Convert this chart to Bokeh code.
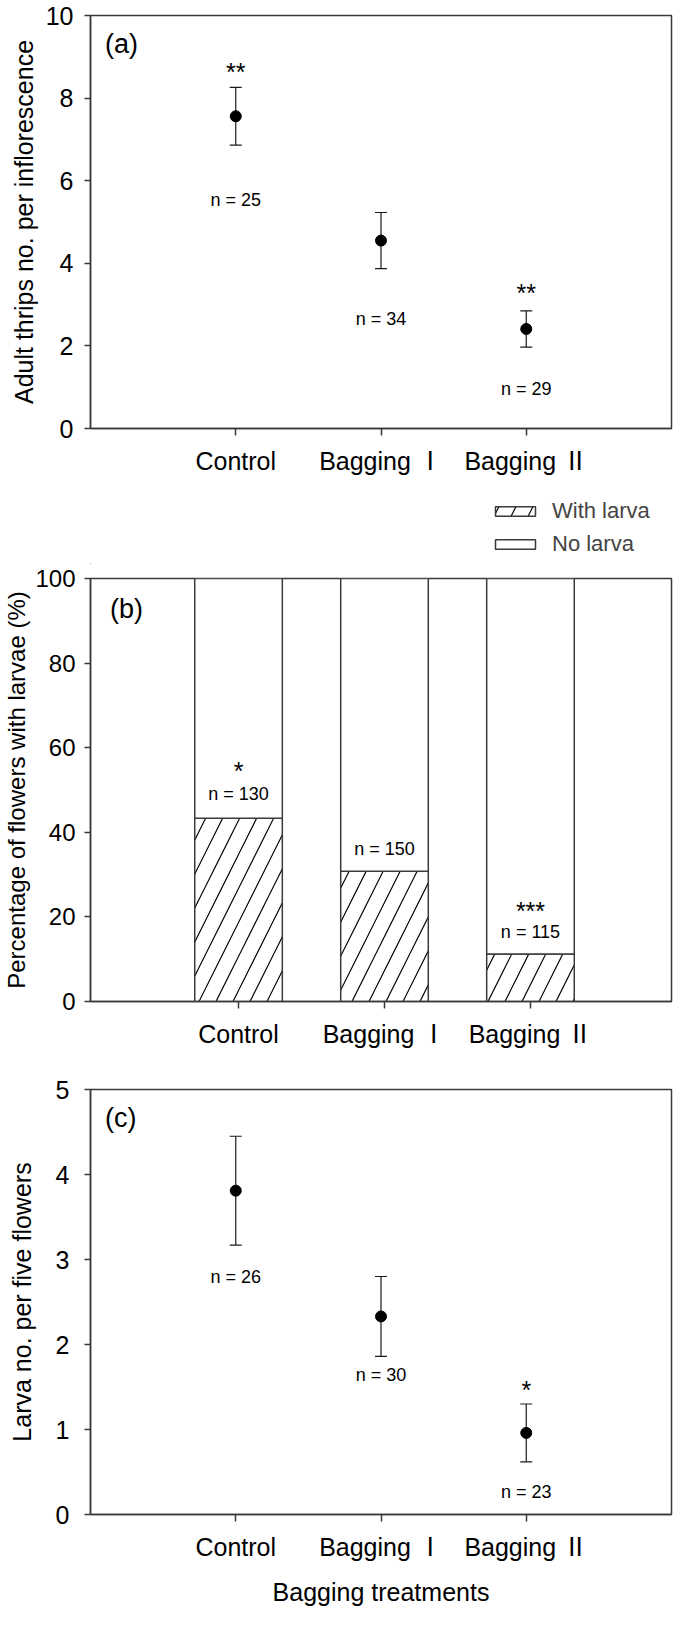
from bokeh.plotting import figure
from bokeh.models import (Range1d, FixedTicker, Whisker, TeeHead, ColumnDataSource,
                          Legend, LegendItem)
from bokeh.layouts import column
from bokeh.embed import file_html
from bokeh.resources import INLINE
from bokeh.core.properties import value

# ---------------- data ----------------
categories = ["Control", "Bagging Ⅰ", "Bagging Ⅱ"]

# (a) adult thrips per inflorescence
adult_mean = [7.56, 4.55, 2.41]
adult_se = [0.70, 0.68, 0.44]
adult_n = [25, 34, 29]
adult_sig = ["**", "", "**"]
adult_yticks = [0, 2, 4, 6, 8, 10]

# (b) percentage of flowers with larvae
with_larva_pct = [43.3, 30.8, 11.2]
flowers_n = [130, 150, 115]
flowers_sig = ["*", "", "***"]
pct_yticks = [0, 20, 40, 60, 80, 100]
legend_labels = ["With larva", "No larva"]

# (c) larva number per five flowers
larva_mean = [3.81, 2.33, 0.96]
larva_se = [0.64, 0.47, 0.34]
larva_n = [26, 30, 23]
larva_sig = ["", "", "*"]
larva_yticks = [0, 1, 2, 3, 4, 5]

# annotation anchor heights (data units)
adult_n_label_y = [5.53, 2.65, 0.95]
adult_sig_y = [8.62, None, 3.28]
flowers_n_label_y = [49.0, 36.0, 16.5]
flowers_sig_y = [54.5, None, 21.3]
larva_n_label_y = [2.79, 1.64, 0.26]
larva_sig_y = [None, None, 1.47]

# ---------------- styling ----------------
FONT = "Liberation Sans, Noto Sans CJK SC"
TFONT = "Liberation Sans"
INK = "#3a3a3a"
W = 677
LEFT = 83     # frame left at page x = 91 (plots in a column share this border)
RIGHT = 6     # frame right at page x = 679
xpos = [i + 1 for i in range(len(categories))]
tick_names = {x: c for x, c in zip(xpos, categories)}

WITH_STYLE = dict(fill_color="white", line_color=INK, line_width=1.5,
                  hatch_pattern="/", hatch_scale=34, hatch_weight=1.2,
                  hatch_color="black")
NO_STYLE = dict(fill_color="white", line_color=INK, line_width=1.5)


def base_fig(height, top, bottom, xrange, yrange, yticks, ylabel,
             ylabel_standoff, ytick_out, ytick_standoff, yfont="25px",
             ytitle_font="25px"):
    p = figure(width=W, height=height, min_border_top=top, min_border_bottom=bottom,
               min_border_left=LEFT, min_border_right=RIGHT,
               x_range=Range1d(*xrange), y_range=Range1d(*yrange),
               output_backend="svg", toolbar_location=None,
               background_fill_color="white", border_fill_color="white")
    p.xgrid.visible = False
    p.ygrid.visible = False
    p.outline_line_color = INK
    p.outline_line_width = 1.5
    p.outline_line_alpha = 1
    for ax in (p.xaxis[0], p.yaxis[0]):
        ax.axis_line_color = INK
        ax.axis_line_width = 1.5
        ax.major_tick_line_color = INK
        ax.major_tick_line_width = 1.5
        ax.major_tick_in = 0
        ax.minor_tick_line_color = None
        ax.major_label_text_font = FONT
        ax.major_label_text_font_size = "25px"
        ax.major_label_text_color = "black"
        ax.axis_label_text_font = TFONT
        ax.axis_label_text_font_size = "25px"
        ax.axis_label_text_font_style = "normal"
        ax.axis_label_text_color = "black"
    p.xaxis.ticker = FixedTicker(ticks=xpos)
    p.xaxis.major_label_overrides = tick_names
    p.xaxis.major_tick_out = 7
    p.xaxis.major_label_standoff = 11
    p.yaxis.ticker = FixedTicker(ticks=yticks)
    p.yaxis.major_tick_out = ytick_out
    p.yaxis.major_label_standoff = ytick_standoff
    p.yaxis.major_label_text_font_size = yfont
    p.yaxis.axis_label = ylabel
    p.yaxis.axis_label_standoff = ylabel_standoff
    p.yaxis.axis_label_text_font_size = ytitle_font
    return p


def add_texts(p, ys, texts, size):
    xs, yy, tt = [], [], []
    for x, y, t in zip(xpos, ys, texts):
        if y is None or t == "":
            continue
        xs.append(x)
        yy.append(y)
        tt.append(t)
    src = ColumnDataSource(dict(x=xs, y=yy, t=tt))
    p.text(x="x", y="y", text="t", source=src, text_font=value(TFONT),
           text_font_size=size, text_align="center", text_baseline="middle",
           text_color="black")


def add_panel_label(p, x, y, label):
    p.text(x=[x], y=[y], text=[label], text_font=value(TFONT),
           text_font_size="27px", text_align="left", text_baseline="middle",
           text_color="black")


def mean_se_panel(p, means, ses):
    src = ColumnDataSource(dict(
        x=xpos, m=means,
        upper=[m + s for m, s in zip(means, ses)],
        lower=[m - s for m, s in zip(means, ses)]))
    wh = Whisker(base="x", upper="upper", lower="lower", source=src,
                 dimension="height", line_color="#1a1a1a", line_width=1.2,
                 upper_head=TeeHead(size=12, line_color="#1a1a1a", line_width=1.2),
                 lower_head=TeeHead(size=12, line_color="#1a1a1a", line_width=1.2))
    p.add_layout(wh)
    p.scatter(x="x", y="m", source=src, size=11, marker="circle",
              fill_color="black", line_color="black")


# ---------------- panel (a) ----------------
# page: figure 8..500, frame 23..436
pa = base_fig(492, 15, 64, (0, 4), (0, 10), adult_yticks,
              "Adult thrips no. per inflorescence", 5, 6, 11)
mean_se_panel(pa, adult_mean, adult_se)
add_texts(pa, adult_n_label_y, [f"n = {n}" for n in adult_n], "18px")
add_texts(pa, adult_sig_y, adult_sig, "25px")
add_panel_label(pa, 0.10, 9.30, "(a)")

# ---------------- legend strip (between a and b) ----------------
# page: 500..572 ; the legend's swatches use the panel-(b) bar styles.
# The strip's view window lies far from the bars so only the legend shows.
bsrc = ColumnDataSource(dict(x=xpos, w=with_larva_pct, full=[100] * len(xpos)))
lg = figure(width=W, height=72, min_border_top=0, min_border_bottom=0,
            min_border_left=LEFT, min_border_right=RIGHT,
            x_range=Range1d(100, 101), y_range=Range1d(500, 501),
            x_axis_location=None, y_axis_location=None,
            output_backend="svg", toolbar_location=None,
            background_fill_color="white", border_fill_color="white",
            outline_line_color=None)
lg.xgrid.visible = False
lg.ygrid.visible = False
lw = lg.vbar(x="x", width=0.6, bottom=0, top="w", source=bsrc, **WITH_STYLE)
ln = lg.vbar(x="x", width=0.6, bottom="w", top="full", source=bsrc, **NO_STYLE)
legend = Legend(items=[LegendItem(label=legend_labels[0], renderers=[lw]),
                       LegendItem(label=legend_labels[1], renderers=[ln])],
                location=(400, 7), glyph_width=50, glyph_height=12,
                label_text_font=TFONT, label_text_font_size="22px",
                label_height=25, label_standoff=12, spacing=7, padding=0,
                margin=0, border_line_alpha=0, background_fill_alpha=0)
lg.add_layout(legend, "center")

# ---------------- panel (b) ----------------
# page: figure 572..1074, frame 586..1009
pb = base_fig(502, 14, 65, (-0.014, 3.966), (0, 100), pct_yticks,
              "Percentage of flowers with larvae (%)", 2, 6, 9,
              yfont="24px", ytitle_font="24px")
pb.vbar(x="x", width=0.6, bottom=0, top="w", source=bsrc, **WITH_STYLE)
pb.vbar(x="x", width=0.6, bottom="w", top="full", source=bsrc, **NO_STYLE)
add_texts(pb, flowers_n_label_y, [f"n = {n}" for n in flowers_n], "18px")
add_texts(pb, flowers_sig_y, flowers_sig, "25px")
add_panel_label(pb, 0.12, 92.9, "(b)")

# ---------------- panel (c) ----------------
# page: figure 1074..1619, frame 1097..1522
pc = base_fig(545, 23, 97, (0, 4), (0, 5), larva_yticks,
              "Larva no. per five flowers", 17, 6, 15)
pc.xaxis.axis_label = "Bagging treatments"
pc.xaxis.axis_label_standoff = 14
mean_se_panel(pc, larva_mean, larva_se)
add_texts(pc, larva_n_label_y, [f"n = {n}" for n in larva_n], "18px")
add_texts(pc, larva_sig_y, larva_sig, "25px")
add_panel_label(pc, 0.10, 4.66, "(c)")

layout = column(pa, lg, pb, pc, spacing=0)
open("out.html", "w").write(file_html(layout, INLINE))
